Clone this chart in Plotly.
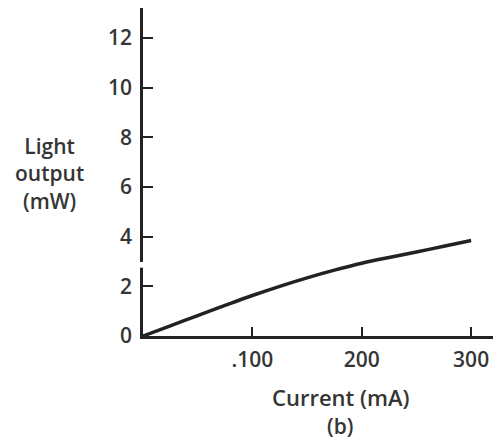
import plotly.graph_objects as go

# Light output of the source versus drive current
current_ma = [0, 25, 50, 75, 100, 125, 150, 175, 200, 225, 250, 275, 300]
light_mw = [0, 0.41, 0.82, 1.23, 1.63, 2.0, 2.34, 2.65, 2.93, 3.16, 3.38, 3.61, 3.84]

x_tick_vals = [100, 200, 300]
x_tick_text = [".100", "200", "300"]
y_tick_vals = [0, 2, 4, 6, 8, 10, 12]
y_tick_text = ["0", "2", "4", "6", "8", "10", "12"]

ink = "#222222"
text_col = "#353535"
font_family = "Open Sans, Lato, sans-serif"

fig = go.Figure()
fig.add_trace(go.Scatter(
    x=current_ma, y=light_mw, mode="lines",
    line=dict(color=ink, width=3.5, shape="spline", smoothing=1.0),
    hoverinfo="skip", showlegend=False,
))

tick_font = dict(size=21, color=text_col, weight=600, family=font_family)

fig.update_layout(
    width=493, height=447,
    margin=dict(l=143, r=0, t=8, b=111),
    paper_bgcolor="white", plot_bgcolor="white",
    font=dict(family=font_family, color=text_col, size=20, weight=600),
    xaxis=dict(
        range=[0, 320], showgrid=False, zeroline=False,
        showline=True, linecolor=ink, linewidth=2.5,
        ticks="inside", ticklen=9, tickwidth=2, tickcolor=ink,
        tickvals=x_tick_vals, ticktext=x_tick_text,
        tickfont=tick_font,
        ticklabelstandoff=3,
    ),
    yaxis=dict(
        range=[0, 13.2], showgrid=False, zeroline=False,
        showline=True, linecolor=ink, linewidth=2.5,
        ticks="inside", ticklen=10, tickwidth=2, tickcolor=ink,
        tickvals=y_tick_vals, ticktext=y_tick_text,
        tickfont=tick_font,
        ticklabelstandoff=4,
    ),
    annotations=[
        dict(text="Light<br>output<br>(mW)", x=50, y=173, showarrow=False,
             font=dict(size=21, color=text_col, weight=600), align="center",
             xanchor="center", yanchor="middle"),
        dict(text="Current (mA)", x=340, y=397, showarrow=False,
             font=dict(size=22, color=text_col, weight=600), xanchor="center", yanchor="middle"),
        dict(text="(b)", x=340, y=426, showarrow=False,
             font=dict(size=21, color=text_col, weight=600), xanchor="center", yanchor="middle"),
    ],
)

# Place the free text in pixel coordinates of the page
w, h = 493, 447
pl, pr, pt, pb = 143, 0, 8, 111
pw, ph = w - pl - pr, h - pt - pb
for a in fig.layout.annotations:
    a.xref = "paper"
    a.yref = "paper"
    a.x = (a.x - pl) / pw
    a.y = (h - pb - a.y) / ph

# Small break in the vertical axis line just above the 2 mW tick
fig.add_shape(type="rect", xref="paper", yref="y",
              x0=-0.012, x1=0.012, y0=2.75, y1=2.98,
              fillcolor="white", line=dict(width=0), layer="above")

fig.write_html("out.html")
